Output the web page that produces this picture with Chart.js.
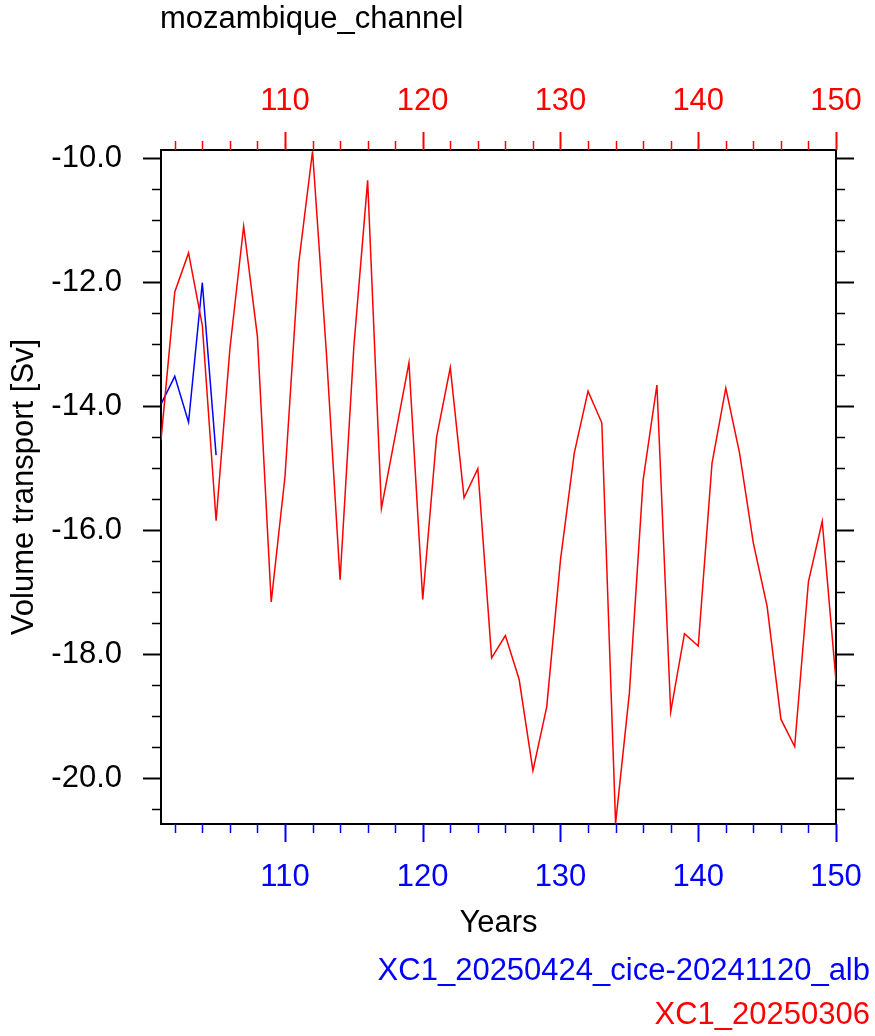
<!DOCTYPE html>
<html>
<head>
<meta charset="utf-8">
<script src="https://cdn.jsdelivr.net/npm/chart.js@4.4.1/dist/chart.umd.min.js"></script>
<style>
  html, body { margin: 0; padding: 0; background: #fff; }
  #wrap { width: 875px; height: 1036px; }
</style>
</head>
<body>
<div id="wrap"><canvas id="lineChart" width="875" height="1036"></canvas></div>
<script>
// volume transport through the Mozambique Channel
const years = [101, 102, 103, 104, 105, 106, 107, 108, 109, 110,
               111, 112, 113, 114, 115, 116, 117, 118, 119, 120,
               121, 122, 123, 124, 125, 126, 127, 128, 129, 130,
               131, 132, 133, 134, 135, 136, 137, 138, 139, 140,
               141, 142, 143, 144, 145, 146, 147, 148, 149, 150];
const transportRed = [-14.55, -12.16, -11.53, -12.70, -15.85, -13.08, -11.10, -12.88, -17.16, -15.14,
                      -11.69, -9.89, -13.12, -16.80, -13.04, -10.36, -15.65, -14.48, -13.30, -17.12,
                      -14.51, -13.38, -15.48, -15.01, -18.06, -17.70, -18.41, -19.88, -18.85, -16.48,
                      -14.76, -13.76, -14.27, -20.73, -18.63, -15.19, -13.66, -18.93, -17.67, -17.87,
                      -14.92, -13.71, -14.76, -16.21, -17.23, -19.05, -19.49, -16.83, -15.86, -18.43];
const yearsBlue = [101, 102, 103, 104, 105];
const transportBlue = [-13.97, -13.52, -14.26, -12.01, -14.79];

const yearTicks = [110, 120, 130, 140, 150];
const transportTicks = [-20, -18, -16, -14, -12, -10];

const plotTitle = 'mozambique_channel';
const blueName = 'XC1_20250424_cice-20241120_alb';
const redName = 'XC1_20250306';

const FONT = '"Liberation Sans", Arial, sans-serif';
const FSIZE = 31;
const RED = '#ff0000';
const BLUE = '#0000ff';

function pts(xs, ys) {
    return xs.map((x, i) => ({ x: x, y: ys[i] }));
}

// major/minor tick marks pointing outwards, plus title and the two run names
const extras = {
    id: 'extras',
    afterDraw(chart) {
        const ctx = chart.ctx;
        const a = chart.chartArea;
        const sx = chart.scales.x, sy = chart.scales.y;
        ctx.save();
        for (let v = 102; v <= 150; v += 2) {
            const px = Math.round(sx.getPixelForValue(v)) + 0.5;
            const major = v % 10 === 0;
            const len = major ? 18 : 9;
            ctx.lineWidth = major ? 2 : 1.5;
            ctx.strokeStyle = RED;
            ctx.beginPath(); ctx.moveTo(px, a.top); ctx.lineTo(px, a.top - len); ctx.stroke();
            ctx.strokeStyle = BLUE;
            ctx.beginPath(); ctx.moveTo(px, a.bottom); ctx.lineTo(px, a.bottom + len); ctx.stroke();
        }
        ctx.strokeStyle = '#000';
        for (let v = -20.5; v <= -10; v += 0.5) {
            const py = Math.round(sy.getPixelForValue(v)) + 0.5;
            const major = v % 2 === 0;
            const len = major ? 18 : 9;
            ctx.lineWidth = major ? 2 : 1.5;
            ctx.beginPath(); ctx.moveTo(a.left, py); ctx.lineTo(a.left - len, py); ctx.stroke();
            ctx.beginPath(); ctx.moveTo(a.right, py); ctx.lineTo(a.right + len, py); ctx.stroke();
        }

        ctx.font = FSIZE + 'px ' + FONT;
        ctx.textBaseline = 'alphabetic';
        ctx.fillStyle = '#000';
        ctx.textAlign = 'left';
        ctx.fillText(plotTitle, 160, 28);
        ctx.textAlign = 'right';
        ctx.fillStyle = BLUE;
        ctx.fillText(blueName, 870, 980);
        ctx.fillStyle = RED;
        ctx.fillText(redName, 870, 1024);
        ctx.restore();
    }
};

const border = { display: true, color: '#000', width: 2 };
const noGrid = { display: false, drawTicks: false };
const tickFont = { family: FONT, size: FSIZE };

// fixed box sizes so the plot frame lands where it does in the original
function fixH(h) {
    return s => { s.height = h; s.paddingLeft = 0; s.paddingRight = 0; };
}
function fixW(w) {
    return s => { s.width = w; s.paddingTop = 0; s.paddingBottom = 0; };
}

new Chart(document.getElementById('lineChart'), {
    type: 'line',
    data: {
        datasets: [
            { label: redName, data: pts(years, transportRed), borderColor: RED, borderWidth: 1.5, pointRadius: 0, tension: 0, xAxisID: 'x', yAxisID: 'y' },
            { label: blueName, data: pts(yearsBlue, transportBlue), borderColor: BLUE, borderWidth: 1.5, pointRadius: 0, tension: 0, xAxisID: 'x', yAxisID: 'y' }
        ]
    },
    options: {
        responsive: false,
        animation: false,
        layout: { padding: 0 },
        plugins: { legend: { display: false }, tooltip: { enabled: false } },
        scales: {
            x: {
                type: 'linear', position: 'bottom', min: 101, max: 150,
                afterBuildTicks: s => { s.ticks = yearTicks.map(v => ({ value: v })); },
                afterFit: fixH(212),
                grid: noGrid, border: border,
                ticks: { color: BLUE, font: tickFont, padding: 35, maxRotation: 0 },
                title: { display: true, text: 'Years', color: '#000', font: tickFont, padding: { top: 0, bottom: 94 } }
            },
            x2: {
                type: 'linear', position: 'top', min: 101, max: 150,
                afterBuildTicks: s => { s.ticks = yearTicks.map(v => ({ value: v })); },
                afterFit: fixH(150),
                grid: noGrid, border: border,
                ticks: { color: RED, font: tickFont, padding: 30, maxRotation: 0 }
            },
            y: {
                type: 'linear', position: 'left', min: -20.74, max: -9.87,
                afterBuildTicks: s => { s.ticks = transportTicks.map(v => ({ value: v })); },
                afterFit: fixW(161),
                grid: noGrid, border: border,
                ticks: { color: '#000', font: tickFont, padding: 39, callback: v => v.toFixed(1) },
                title: { display: true, text: 'Volume transport [Sv]', color: '#000', font: tickFont, padding: { top: 6, bottom: 0 } }
            },
            y2: {
                type: 'linear', position: 'right', min: -20.74, max: -9.87,
                afterFit: fixW(39),
                grid: noGrid, border: border,
                ticks: { display: false }
            }
        }
    },
    plugins: [extras]
});
</script>
</body>
</html>
